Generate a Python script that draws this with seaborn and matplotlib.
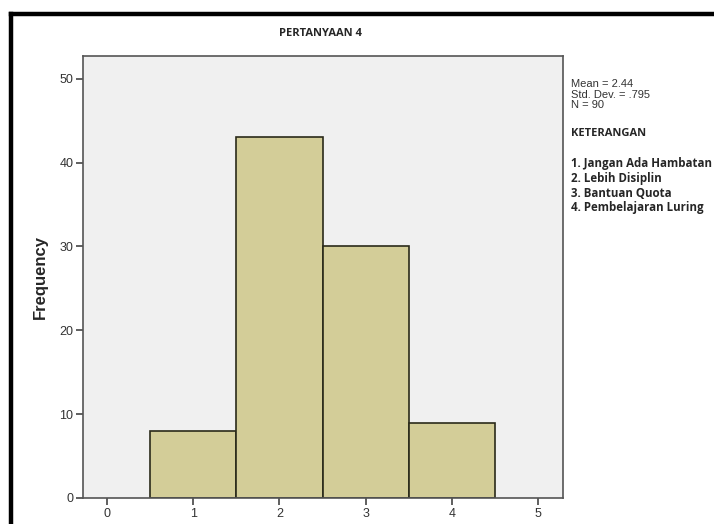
import numpy as np
import pandas as pd
import matplotlib
matplotlib.use("Agg")
import matplotlib.pyplot as plt
import seaborn as sns
from matplotlib.lines import Line2D

categories = [1, 2, 3, 4]
counts = [8, 43, 30, 9]
x_ticks = [0, 1, 2, 3, 4, 5]
y_ticks = [0, 10, 20, 30, 40, 50]
title = "PERTANYAAN 4"
stats_lines = ["Mean = 2.44", "Std. Dev. = .795", "N = 90"]
legend_title = "KETERANGAN"
legend_items = ["1. Jangan Ada Hambatan", "2. Lebih Disiplin", "3. Bantuan Quota", "4. Pembelajaran Luring"]

df = pd.DataFrame({"value": np.repeat(categories, counts)})

sns.set_style("white")
plt.rcParams["font.family"] = ["Liberation Sans", "DejaVu Sans"]

W, H = 714, 524
fig = plt.figure(figsize=(W / 100, H / 100), dpi=100)
ax = fig.add_axes([83 / W, 1 - 498 / H, (563 - 83) / W, (498 - 56) / H])
ax.set_facecolor("#f0f0f0")

sns.histplot(data=df, x="value", discrete=True, ax=ax, color="#d3cd98",
             edgecolor="#2a2a1a", linewidth=1.2, alpha=1.0)

ax.set_xlim(-0.28, 5.29)
ax.set_ylim(0, 52.7)
ax.set_xticks(x_ticks)
ax.set_yticks(y_ticks)
ax.set_xlabel("")
ax.set_ylabel("Frequency", fontsize=12, fontweight="bold", labelpad=8)
ax.tick_params(axis="both", which="both", length=5, width=1.2, color="#444444",
               labelsize=9, labelcolor="#333333", direction="out", pad=2)
ax.tick_params(left=True, bottom=True)
for s in ax.spines.values():
    s.set_color("#555555")
    s.set_linewidth(1.2)

fig.text(320 / W, 1 - 33 / H, title, ha="center", va="center",
         fontsize=8, fontweight="bold", family=["Open Sans", "DejaVu Sans"])

for i, line in enumerate(stats_lines):
    fig.text(571 / W, 1 - (84 + 10.5 * i) / H, line, ha="left", va="center",
             fontsize=8, color="#333333")
fig.text(571 / W, 1 - 133 / H, legend_title, ha="left", va="center",
         fontsize=8, fontweight="bold", family=["Open Sans", "DejaVu Sans"])
for i, item in enumerate(legend_items):
    fig.text(571 / W, 1 - (164 + 14.6 * i) / H, item, ha="left", va="center",
             fontsize=8.3, fontweight="bold", family=["Open Sans", "DejaVu Sans"])

# outer black frame (left and top edges visible)
fig.add_artist(Line2D([11 / W, 11 / W], [0, 1 - 13.5 / H], color="black", linewidth=3.2,
                      transform=fig.transFigure, solid_capstyle="projecting"))
fig.add_artist(Line2D([11 / W, 1.0], [1 - 13.5 / H, 1 - 13.5 / H], color="black", linewidth=3.2,
                      transform=fig.transFigure, solid_capstyle="projecting"))

fig.savefig("out.png", dpi=100)
